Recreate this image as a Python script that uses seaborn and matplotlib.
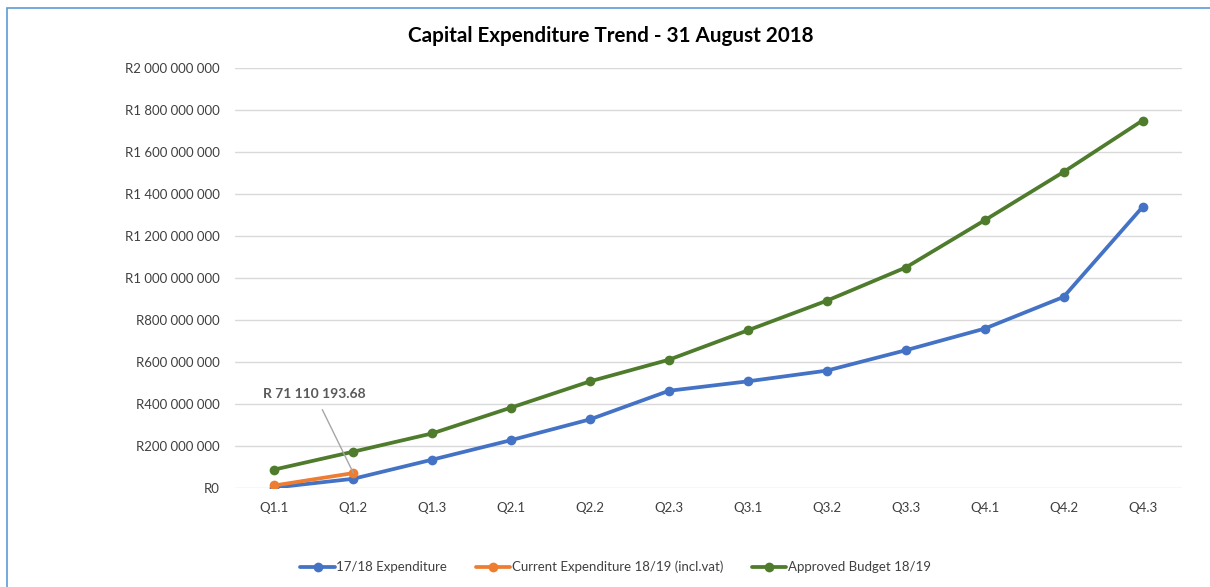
import matplotlib
matplotlib.use("Agg")
import matplotlib.pyplot as plt
import matplotlib.patches as mpatches
from matplotlib.lines import Line2D
import matplotlib.ticker as mticker
import seaborn as sns
import pandas as pd

quarters = ["Q1.1", "Q1.2", "Q1.3", "Q2.1", "Q2.2", "Q2.3",
            "Q3.1", "Q3.2", "Q3.3", "Q4.1", "Q4.2", "Q4.3"]
exp_1718 = [2e6, 44e6, 135e6, 228e6, 327e6, 463e6,
            508e6, 559e6, 656e6, 759e6, 910e6, 1338e6]
current_1819 = [12e6, 71110193.68]
budget_1819 = [88e6, 173e6, 260e6, 383e6, 508e6, 611e6,
               751e6, 892e6, 1050e6, 1275e6, 1505e6, 1750e6]
series_names = ["17/18 Expenditure", "Current Expenditure 18/19 (incl.vat)", "Approved Budget 18/19"]
colors = ["#4472C4", "#ED7D31", "#4E7B2C"]
y_ticks = [0, 200e6, 400e6, 600e6, 800e6, 1000e6, 1200e6, 1400e6, 1600e6, 1800e6, 2000e6]
title = "Capital Expenditure Trend - 31 August 2018"
annotation = "R 71 110 193.68"

rows = []
for name, vals in zip(series_names, [exp_1718, current_1819, budget_1819]):
    for q, v in zip(quarters, vals):
        rows.append({"Quarter": q, "Value": v, "Series": name})
df = pd.DataFrame(rows)
df["x"] = df["Quarter"].map({q: i for i, q in enumerate(quarters)})

sns.set_style("white")
plt.rcParams["font.family"] = ["Lato", "DejaVu Sans"]

fig = plt.figure(figsize=(12.10, 5.87), dpi=100)
ax = fig.add_axes([235 / 1210, 1 - 488 / 587, (1182 - 235) / 1210, (488 - 68) / 587])

LW = 2.7
MS = 7
order = [series_names[2], series_names[0], series_names[1]]
palette = dict(zip(series_names, colors))
for name in order:
    sub = df[df["Series"] == name]
    sns.lineplot(data=sub, x="x", y="Value", color=palette[name], ax=ax,
                 linewidth=LW, marker="o", markersize=MS, markeredgewidth=0,
                 legend=False, sort=False)

ax.set_xlim(-0.5, len(quarters) - 0.5)
ax.set_ylim(0, 2000e6)
ax.set_xticks(range(len(quarters)))
ax.set_xticklabels(quarters)
ax.set_yticks(y_ticks)


def fmt(v, pos=None):
    s = f"{int(round(v)):,}".replace(",", " ")
    return "R" + s


ax.yaxis.set_major_formatter(mticker.FuncFormatter(fmt))
ax.set_xlabel("")
ax.set_ylabel("")
ax.grid(axis="y", color="#D9D9D9", linewidth=1.0)
ax.grid(axis="x", visible=False)
ax.set_axisbelow(True)
for s in ax.spines.values():
    s.set_visible(False)
ax.tick_params(axis="both", length=0, labelsize=9.5, labelcolor="#404040")
ax.tick_params(axis="y", pad=11)
ax.tick_params(axis="x", pad=10)

ax.annotate(annotation, xy=(1, current_1819[1]), xytext=(0.51, 447e6),
            ha="center", va="center", fontsize=10, fontweight="bold", color="#595959",
            arrowprops=dict(arrowstyle="-", color="#A6A6A6", lw=1.0,
                            shrinkA=5, shrinkB=0))

fig.text(611 / 1210, 1 - 36 / 587, title, ha="center", va="center",
         fontsize=14.9, fontweight="bold", color="#000000")

handles = [Line2D([0], [0], color=c, lw=LW, marker="o", markersize=MS, markeredgewidth=0)
           for c in colors]
fig.legend(handles, series_names, loc="center", bbox_to_anchor=(615.5 / 1210, 1 - 567 / 587),
           ncol=3, frameon=False, fontsize=9.5, handlelength=2.6, handletextpad=0.1,
           columnspacing=2.2, labelcolor="#404040")

border = mpatches.Rectangle((7 / 1210, -0.05), 1.1, 1 - 8 / 587 + 0.05, transform=fig.transFigure,
                            fill=False, edgecolor="#5B9BD5", linewidth=1.2)
fig.patches.append(border)

fig.savefig("out.png", dpi=100)
